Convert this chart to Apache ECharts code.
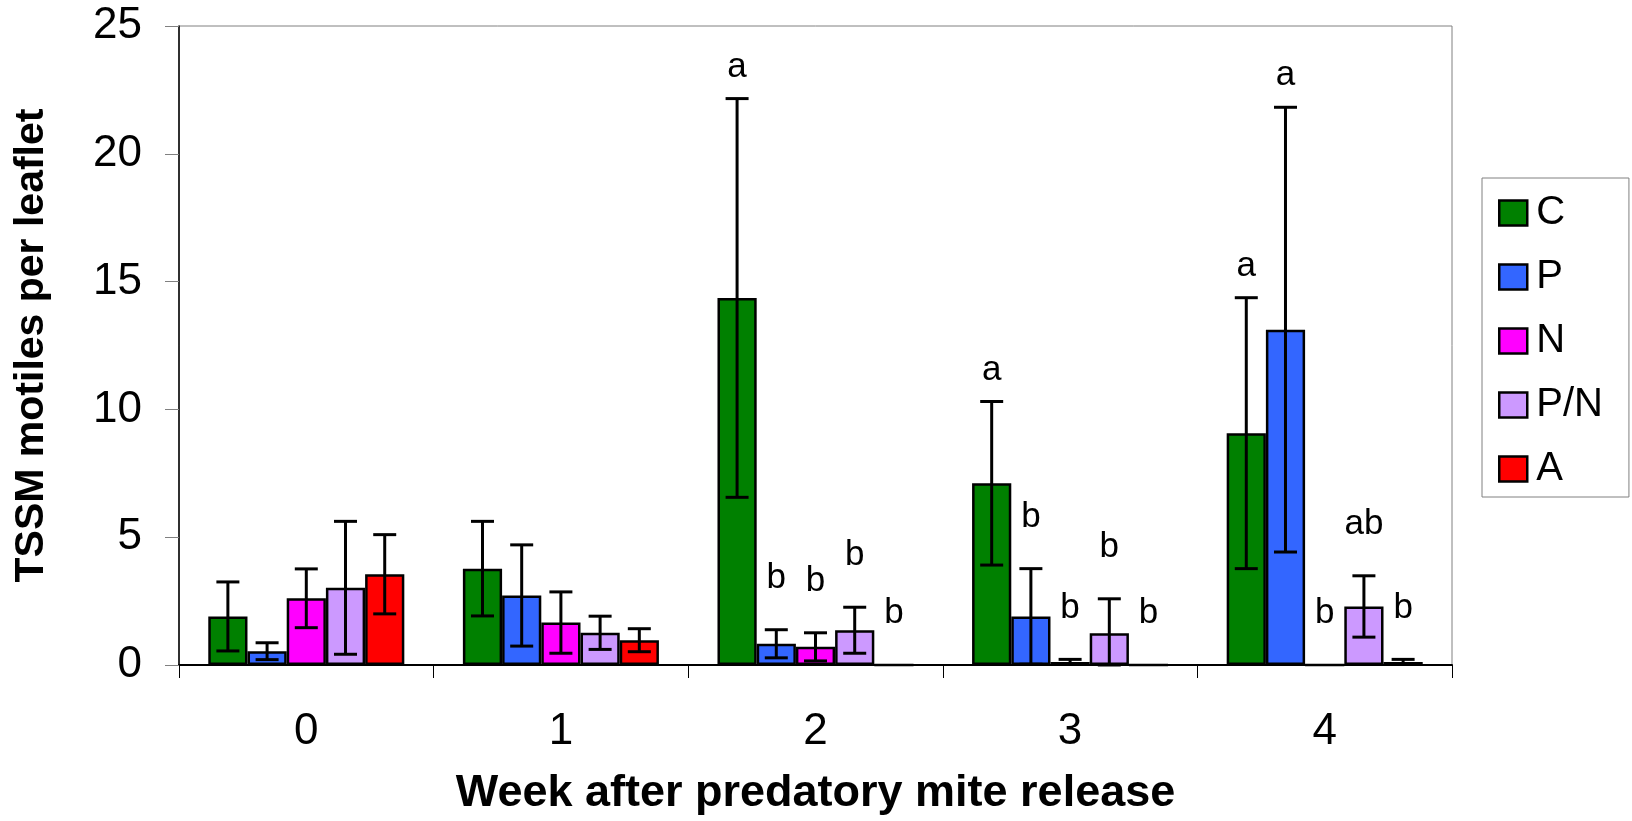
<!DOCTYPE html>
<html lang="en">
<head>
    <meta charset="UTF-8">
    <title>TSSM motiles per leaflet</title>
    <style>
        html, body { margin: 0; padding: 0; background: #fff; }
        #chart { width: 1632px; height: 821px; }
    </style>
</head>
<body>
<div id="chart"></div>
<script src="https://cdn.jsdelivr.net/npm/echarts@6/dist/echarts.min.js"></script>
<script>
    /* weeks after release */
    var weeks = ['0', '1', '2', '3', '4'];
    var treatments = ['C', 'P', 'N', 'P/N', 'A'];
    /* means */
    var meanC = [1.90, 3.77, 14.36, 7.11, 9.07];
    var meanP = [0.54, 2.72, 0.83, 1.90, 13.12];
    var meanN = [2.61, 1.66, 0.71, 0.12, 0];
    var meanPN = [3.02, 1.26, 1.36, 1.24, 2.29];
    var meanA = [3.55, 0.97, 0, 0, 0.12];
    /* standard errors */
    var seC = [1.35, 1.85, 7.80, 3.20, 5.30];
    var seP = [0.33, 1.98, 0.55, 1.87, 8.70];
    var seN = [1.15, 1.20, 0.55, 0.10, 0];
    var sePN = [2.60, 0.65, 0.90, 1.35, 1.20];
    var seA = [1.55, 0.45, 0, 0, 0.10];
    /* significance letters */
    var letC = ['', '', 'a', 'a', 'a'];
    var letP = ['', '', 'b', 'b', 'a'];
    var letN = ['', '', 'b', 'b', 'b'];
    var letPN = ['', '', 'b', 'b', 'ab'];
    var letA = ['', '', 'b', 'b', 'b'];
    var yTicks = [0, 5, 10, 15, 20, 25];

    var means = [meanC, meanP, meanN, meanPN, meanA];
    var ses = [seC, seP, seN, sePN, seA];
    var letters = [letC, letP, letN, letPN, letA];
    var colors = ['#008000', '#3366FF', '#FF00FF', '#CC99FF', '#FF0000'];
    var catGap = 0.23;
    var font = '"Liberation Sans", Arial, sans-serif';

    var chart = echarts.init(document.getElementById('chart'));

    // error bars + letters, one item per bar
    var errData = [];
    for (var s = 0; s < treatments.length; s++) {
        for (var w = 0; w < weeks.length; w++) {
            errData.push([w, means[s][w], ses[s][w], s, letters[s][w]]);
        }
    }

    function renderErr(params, api) {
        var w = api.value(0), m = api.value(1), e = api.value(2), s = api.value(3);
        var letter = errData[params.dataIndex][4];
        var band = api.size([1, 0])[0];
        var bw = band * (1 - catGap) / treatments.length;
        var cx = api.coord([w, 0])[0] + (s - (treatments.length - 1) / 2) * bw;
        var yHi = api.coord([w, m + e])[1];
        var yLo = api.coord([w, Math.max(0, m - e)])[1];
        var half = 11.5;
        var st = { stroke: '#000', lineWidth: 3 };
        var children = [];
        if (e > 0) {
            children.push({ type: 'line', shape: { x1: cx, y1: yHi, x2: cx, y2: yLo }, style: st });
            children.push({ type: 'line', shape: { x1: cx - half, y1: yHi, x2: cx + half, y2: yHi }, style: st });
            children.push({ type: 'line', shape: { x1: cx - half, y1: yLo, x2: cx + half, y2: yLo }, style: st });
        }
        if (letter) {
            var gap = letter === 'a' ? 14 : 34;
            children.push({
                type: 'text',
                style: {
                    x: cx, y: yHi - gap, text: letter,
                    fill: '#000', font: '35px ' + font,
                    textAlign: 'center', textVerticalAlign: 'bottom'
                }
            });
        }
        return { type: 'group', children: children };
    }

    var series = treatments.map(function (t, i) {
        return {
            name: t,
            type: 'bar',
            data: means[i],
            barGap: '0%',
            barCategoryGap: (catGap * 100) + '%',
            itemStyle: { color: colors[i], borderColor: '#000', borderWidth: 2.5 },
            silent: true
        };
    });
    series.push({
        type: 'custom',
        renderItem: renderErr,
        data: errData,
        encode: { x: 0, y: 1 },
        z: 10,
        silent: true
    });

    var option = {
        animation: false,
        backgroundColor: '#fff',
        color: colors,
        grid: {
            left: 179, right: 180, top: 26, bottom: 155,
            show: true, borderColor: '#808080', borderWidth: 1
        },
        legend: {
            orient: 'vertical',
            left: 1482, top: 178,
            align: 'left',
            padding: [15, 26, 8, 16],
            itemWidth: 28, itemHeight: 25, itemGap: 24,
            icon: 'rect',
            borderColor: '#808080', borderWidth: 1,
            itemStyle: { borderColor: '#000', borderWidth: 2.5 },
            textStyle: { fontFamily: font, fontSize: 40, color: '#000', lineHeight: 40, padding: [0, 0, 0, 4] },
            data: treatments
        },
        xAxis: {
            type: 'category',
            data: weeks,
            name: 'Week after predatory mite release',
            nameLocation: 'middle',
            nameGap: 106,
            nameTextStyle: { fontFamily: font, fontSize: 45, fontWeight: 'bold', color: '#000' },
            axisLine: { lineStyle: { color: '#000', width: 2 } },
            axisTick: { show: true, length: 13, lineStyle: { color: '#000', width: 1 } },
            axisLabel: { fontFamily: font, fontSize: 44, color: '#000', margin: 45 }
        },
        yAxis: {
            type: 'value',
            min: yTicks[0],
            max: yTicks[yTicks.length - 1],
            interval: 5,
            name: 'TSSM motiles per leaflet',
            nameLocation: 'middle',
            nameGap: 127,
            nameRotate: 90,
            nameTextStyle: { fontFamily: font, fontSize: 41, fontWeight: 'bold', color: '#000' },
            axisLine: { show: true, lineStyle: { color: '#000', width: 1.5 } },
            axisTick: { show: true, length: 14, lineStyle: { color: '#808080', width: 1 } },
            axisLabel: { fontFamily: font, fontSize: 44, color: '#000', margin: 37 },
            splitLine: { show: false }
        },
        series: series
    };
    chart.setOption(option);
</script>
</body>
</html>
